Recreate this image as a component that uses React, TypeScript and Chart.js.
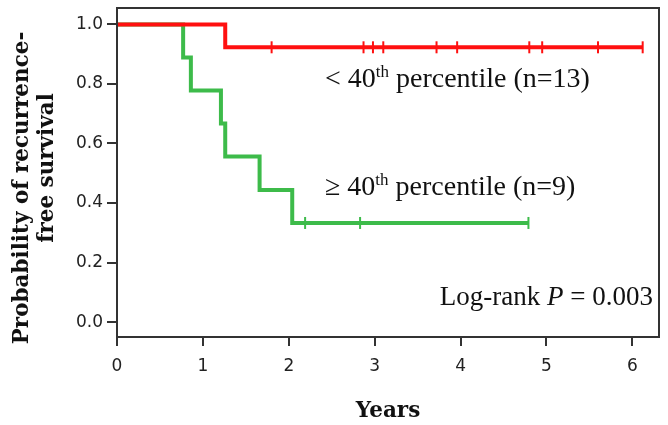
import React, { useEffect, useRef } from "react";
import { Chart, registerables } from "chart.js";

Chart.register(...registerables);

// Kaplan–Meier steps (years, survival probability)
const redTimes = [0, 1.26, 6.12];
const redSurv = [1.0, 0.923, 0.923];
const redCensorTimes = [1.8, 2.87, 2.98, 3.1, 3.72, 3.96, 4.8, 4.95, 5.6, 6.12];
const redCensorSurv = [0.923, 0.923, 0.923, 0.923, 0.923, 0.923, 0.923, 0.923, 0.923, 0.923];

const greenTimes = [0, 0.77, 0.86, 1.21, 1.26, 1.66, 2.04, 4.79];
const greenSurv = [1.0, 0.889, 0.778, 0.667, 0.556, 0.444, 0.333, 0.333];
const greenCensorTimes = [2.19, 2.83, 4.79];
const greenCensorSurv = [0.333, 0.333, 0.333];

const xTicks = [0, 1, 2, 3, 4, 5, 6];
const yTicks = [0, 0.2, 0.4, 0.6, 0.8, 1.0];

const RED = "#ff1010";
const GREEN = "#3dbb4a";
const AXIS = "#333333";

const zip = (xs: number[], ys: number[]) => xs.map((x, i) => ({ x, y: ys[i] }));

const overlay = {
  id: "overlay",
  afterDraw(chart: any) {
    const { ctx, chartArea } = chart;
    ctx.save();
    ctx.strokeStyle = AXIS;
    ctx.lineWidth = 2;
    ctx.strokeRect(chartArea.left, chartArea.top, chartArea.right - chartArea.left, chartArea.bottom - chartArea.top);

    ctx.fillStyle = "#111";
    ctx.textBaseline = "alphabetic";
    const serif = "'Liberation Serif', 'Times New Roman', serif";
    const drawLabel = (prefix: string, rest: string, x: number, y: number) => {
      ctx.textAlign = "left";
      ctx.font = `28px ${serif}`;
      ctx.fillText(prefix, x, y);
      let w = ctx.measureText(prefix).width;
      ctx.font = `17px ${serif}`;
      ctx.fillText("th", x + w, y - 10);
      w += ctx.measureText("th").width;
      ctx.font = `28px ${serif}`;
      ctx.fillText(rest, x + w, y);
    };
    drawLabel("< 40", " percentile (n=13)", 325, 87);
    drawLabel("\u2265 40", " percentile (n=9)", 325, 195);

    // Log-rank P
    ctx.textAlign = "right";
    ctx.font = `27px ${serif}`;
    const tail = " = 0.003";
    const tw = ctx.measureText(tail).width;
    const right = 653;
    ctx.fillText(tail, right, 305);
    ctx.font = `italic 27px ${serif}`;
    const pw = ctx.measureText("P").width;
    ctx.fillText("P", right - tw, 305);
    ctx.font = `27px ${serif}`;
    ctx.fillText("Log-rank ", right - tw - pw, 305);

    // axis titles
    const bold = "bold 21.5px 'DejaVu Serif', serif";
    ctx.font = bold;
    ctx.textAlign = "center";
    ctx.fillText("Years", 388, 417);
    ctx.save();
    ctx.translate(28, 188);
    ctx.rotate(-Math.PI / 2);
    ctx.fillText("Probability of recurrence-", 0, 0);
    ctx.restore();
    ctx.save();
    ctx.translate(53, 168);
    ctx.rotate(-Math.PI / 2);
    ctx.fillText("free survival", 0, 0);
    ctx.restore();
    ctx.restore();
  },
};

export default function App() {
  const ref = useRef<HTMLCanvasElement | null>(null);
  useEffect(() => {
    document.body.style.margin = "0";
    const chart = new Chart(ref.current as HTMLCanvasElement, {
      type: "scatter",
      data: {
        datasets: [
          {
            label: "red",
            data: zip(redTimes, redSurv),
            showLine: true,
            stepped: "before",
            borderColor: RED,
            borderWidth: 4,
            pointRadius: 0,
            order: 1,
          },
          {
            label: "redCensor",
            data: zip(redCensorTimes, redCensorSurv),
            showLine: false,
            pointStyle: "line",
            rotation: 90,
            pointRadius: 6,
            borderColor: RED,
            borderWidth: 2,
            order: 0,
          },
          {
            label: "green",
            data: zip(greenTimes, greenSurv),
            showLine: true,
            stepped: "before",
            borderColor: GREEN,
            borderWidth: 4,
            pointRadius: 0,
            order: 3,
          },
          {
            label: "greenCensor",
            data: zip(greenCensorTimes, greenCensorSurv),
            showLine: false,
            pointStyle: "line",
            rotation: 90,
            pointRadius: 6,
            borderColor: GREEN,
            borderWidth: 2,
            order: 2,
          },
        ] as any,
      },
      options: {
        animation: false,
        responsive: false,
        layout: { padding: { top: 7, right: 9, left: 0, bottom: 0 } },
        plugins: { legend: { display: false }, tooltip: { enabled: false } },
        scales: {
          x: {
            type: "linear",
            min: 0,
            max: 6.31,
            afterBuildTicks: (s: any) => {
              s.ticks = xTicks.map((v) => ({ value: v }));
            },
            afterFit: (s: any) => {
              s.height = 88;
            },
            grid: { drawOnChartArea: false, drawTicks: true, tickLength: 9, color: AXIS, lineWidth: 2 },
            border: { display: true, color: AXIS, width: 2 },
            ticks: {
              color: "#222",
              padding: 10,
              font: { family: "'DejaVu Sans', sans-serif", size: 17 },
              maxRotation: 0,
              callback: (v: any) => String(v),
            },
          },
          y: {
            type: "linear",
            min: -0.05,
            max: 1.055,
            afterBuildTicks: (s: any) => {
              s.ticks = yTicks.map((v) => ({ value: v }));
            },
            afterFit: (s: any) => {
              s.width = 117;
              s.paddingTop = 0;
              s.paddingBottom = 0;
            },
            grid: { drawOnChartArea: false, drawTicks: true, tickLength: 10, color: AXIS, lineWidth: 2 },
            border: { display: true, color: AXIS, width: 2 },
            ticks: {
              color: "#222",
              padding: 4,
              font: { family: "'DejaVu Sans', sans-serif", size: 17, lineHeight: 0.5 },
              callback: (v: any) => Number(v).toFixed(1),
            },
          },
        },
      },
      plugins: [overlay],
    });
    return () => chart.destroy();
  }, []);
  return (
    <div style={{ position: "absolute", left: 0, top: 0, width: 668, height: 425, background: "#fff" }}>
      <canvas ref={ref} width={668} height={425} style={{ width: 668, height: 425, display: "block" }} />
    </div>
  );
}
